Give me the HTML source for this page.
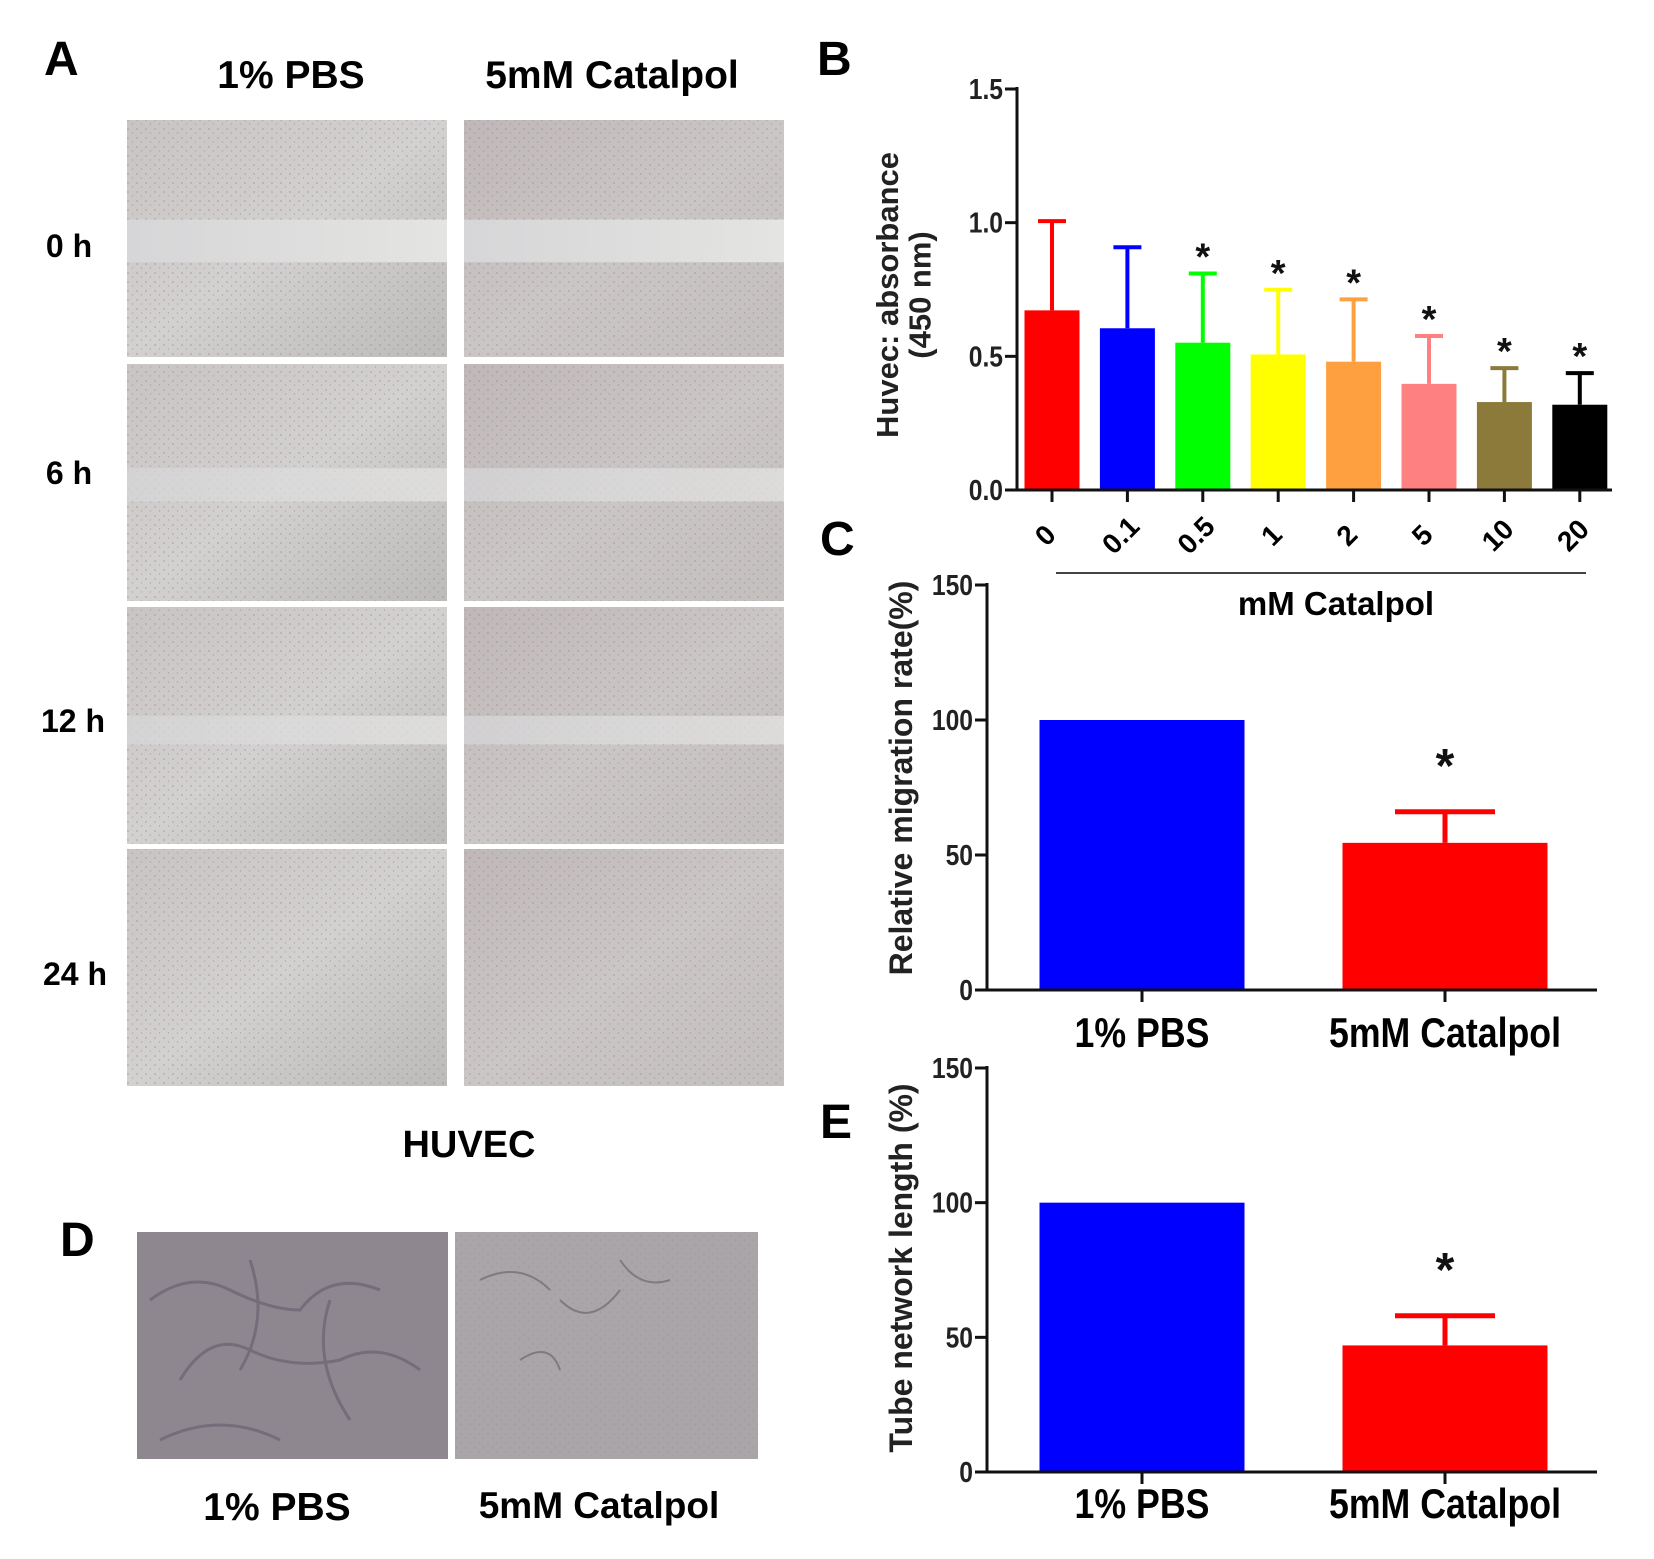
<!DOCTYPE html>
<html><head><meta charset="utf-8">
<style>
html,body{margin:0;padding:0;background:#fff;}
svg{display:block;font-family:"Liberation Sans",Arial,sans-serif;}
</style></head>
<body>
<svg id="fig" width="1654" height="1559" viewBox="0 0 1654 1559" xmlns="http://www.w3.org/2000/svg">
<defs>
<linearGradient id="gA" x1="0" y1="0" x2="1" y2="1">
<stop offset="0" stop-color="#c9c4c4"/><stop offset="0.5" stop-color="#d3d0d0"/><stop offset="1" stop-color="#bdbaba"/></linearGradient>
<linearGradient id="gB" x1="0" y1="0" x2="1" y2="1">
<stop offset="0" stop-color="#bfb7b8"/><stop offset="0.5" stop-color="#cbc6c6"/><stop offset="1" stop-color="#c3bfbe"/></linearGradient>
<linearGradient id="gap" x1="0" y1="0" x2="1" y2="0">
<stop offset="0" stop-color="#d6d6d8"/><stop offset="1" stop-color="#e4e4e2"/></linearGradient>
<pattern id="dots" width="9" height="9" patternUnits="userSpaceOnUse">
<circle cx="2" cy="3" r="0.9" fill="#8a8282" opacity="0.5"/><circle cx="6.5" cy="7" r="0.7" fill="#7a7272" opacity="0.4"/></pattern>
</defs>

<text x="44" y="75" font-size="48" font-weight="bold">A</text>
<text x="817" y="75" font-size="48" font-weight="bold">B</text>
<text x="820" y="555" font-size="48" font-weight="bold">C</text>
<text x="820" y="1138" font-size="48" font-weight="bold">E</text>
<text x="60" y="1256" font-size="48" font-weight="bold">D</text>

<g>
<text x="291" y="88" font-size="39" font-weight="bold" text-anchor="middle">1% PBS</text>
<text x="612" y="88" font-size="39" font-weight="bold" text-anchor="middle">5mM Catalpol</text>
<text x="69" y="257" font-size="32" font-weight="bold" text-anchor="middle">0 h</text>
<text x="69" y="484" font-size="32" font-weight="bold" text-anchor="middle">6 h</text>
<text x="73" y="732" font-size="32" font-weight="bold" text-anchor="middle">12 h</text>
<text x="75" y="985" font-size="32" font-weight="bold" text-anchor="middle">24 h</text>
<g id="micro"></g>
<text x="469" y="1157" font-size="38" font-weight="bold" text-anchor="middle">HUVEC</text>
</g>

<g>
<rect x="137" y="1232" width="311" height="227" fill="#8f8790"/>
<path d="M150 1300 q40 -30 80 -10 t70 20 q30 -40 80 -20 M180 1380 q30 -50 70 -30 t90 10 q40 -20 80 10 M250 1260 q20 60 -10 110 M330 1300 q-20 60 20 120 M160 1440 q60 -30 120 0" stroke="#6a6470" stroke-width="3" fill="none" opacity="0.7"/>
<rect x="455" y="1232" width="303" height="227" fill="#a9a5a8"/>
<rect x="455" y="1232" width="303" height="227" fill="url(#dots)" opacity="0.6"/>
<path d="M480 1280 q40 -20 70 10 M560 1300 q30 30 60 -10 M620 1260 q20 30 50 20 M520 1360 q30 -20 40 10" stroke="#6f6a70" stroke-width="2" fill="none" opacity="0.7"/>
<text x="277" y="1520" font-size="39" font-weight="bold" text-anchor="middle">1% PBS</text>
<text x="599" y="1518" font-size="37" font-weight="bold" text-anchor="middle">5mM Catalpol</text>
</g>

<g id="chartB"></g>
<g id="chartC"></g>
<g id="chartE"></g>
</svg>

<script>
// ---- Chart B data ----
const bCategories = ["0","0.1","0.5","1","2","5","10","20"];
const bValues = [0.672, 0.605, 0.551, 0.507, 0.480, 0.397, 0.329, 0.319];
const bErrors = [0.334, 0.303, 0.259, 0.242, 0.233, 0.179, 0.127, 0.118];
const bSignif = [false, false, true, true, true, true, true, true];
const bColors = ["#ff0000","#0000ff","#00ff00","#ffff00","#ffa040","#ff8080","#8b7a3a","#000000"];
const bTicks = [0, 0.5, 1.0, 1.5];
const bTickLabels = ["0.0","0.5","1.0","1.5"];

// ---- Chart C data ----
const cCategories = ["1% PBS","5mM Catalpol"];
const cValues = [100, 54.5];
const cErrors = [0, 11.5];
const cColors = ["#0000ff","#ff0000"];
const cTicks = [0, 50, 100, 150];

// ---- Chart E data ----
const eCategories = ["1% PBS","5mM Catalpol"];
const eValues = [100, 47];
const eErrors = [0, 11];
const eColors = ["#0000ff","#ff0000"];
const eTicks = [0, 50, 100, 150];

const NS = "http://www.w3.org/2000/svg";
function mk(parent, tag, attrs, text){
  const el = document.createElementNS(NS, tag);
  for (const k in attrs) el.setAttribute(k, attrs[k]);
  if (text !== undefined) el.textContent = text;
  parent.appendChild(el);
  return el;
}

(function(){
  const g = document.getElementById('micro');
  const cols = [127, 464], w = 320;
  const rows = [[120,237],[364,237],[607,237],[849,237]];
  const gapY = [[0.42,0.18],[0.44,0.14],[0.46,0.12],null];
  for (let c=0;c<2;c++) for (let r=0;r<4;r++){
    const x=cols[c], y=rows[r][0], h=rows[r][1];
    const im = mk(g,'rect',{x:x,y:y,width:w,height:h,fill:c?'url(#gB)':'url(#gA)'});
    
    
    mk(g,'rect',{x:x,y:y,width:w,height:h,fill:'url(#dots)'});
    if (gapY[r]){
      mk(g,'rect',{x:x,y:y+h*gapY[r][0],width:w,height:h*gapY[r][1],fill:'url(#gap)',opacity:r===0?1:0.75});
    }
  }
})();

function drawChart(gid, o){
  const g = document.getElementById(gid);
  const ys = v => o.y0 - (v - o.vmin) / (o.vmax - o.vmin) * (o.y0 - o.y1);
  const n = o.cats.length;
  const xs = i => o.xStart + i * o.step;
  for (let i=0;i<n;i++){
    const cx = xs(i), top = ys(o.vals[i]);
    if (o.errs[i] > 0){
      const et = ys(o.vals[i] + o.errs[i]);
      const l = mk(g,'line',{x1:cx,y1:top,x2:cx,y2:et,stroke:o.colors[i],'stroke-width':o.ew});
      
      
      mk(g,'line',{x1:cx-o.cap,y1:et,x2:cx+o.cap,y2:et,stroke:o.colors[i],'stroke-width':o.ew});
      if (o.sig[i]){
        const s = mk(g,'text',{x:cx,y:et-o.starOff,'font-size':o.starSize,'font-weight':'bold','text-anchor':'middle',fill:'#111'},'*');
        
        
      }
    }
    const b = mk(g,'rect',{x:cx-o.bw/2,y:top,width:o.bw,height:o.y0-top,fill:o.colors[i]});
    
    
    mk(g,'line',{x1:cx,y1:o.y0,x2:cx,y2:o.y0+12,stroke:'#111','stroke-width':3});
    let t;
    if (o.rot){
      t = mk(g,'text',{x:0,y:0,'font-size':o.xfs,'font-weight':'bold','text-anchor':'middle',transform:`translate(${cx},${o.xly}) rotate(-45)`},o.cats[i]);
    } else {
      t = mk(g,'text',{x:cx,y:o.xly,'font-size':o.xfs,'font-weight':'bold','text-anchor':'middle',transform:`translate(${cx},0) scale(0.85,1) translate(${-cx},0)`},o.cats[i]);
    }
    
    
  }
  const ya = mk(g,'line',{x1:o.xa,y1:o.y1-2,x2:o.xa,y2:o.y0+1.5,stroke:'#111','stroke-width':3});
  
  
  const xa = mk(g,'line',{x1:o.xa-12,y1:o.y0,x2:o.xEnd,y2:o.y0,stroke:'#111','stroke-width':3});
  
  
  for (let i=0;i<o.ticks.length;i++){
    const yy = ys(o.ticks[i]);
    mk(g,'line',{x1:o.xa-12,y1:yy,x2:o.xa,y2:yy,stroke:'#111','stroke-width':3});
    const tl = mk(g,'text',{x:o.xa-14,y:yy+10,'font-size':29,'font-weight':'bold','text-anchor':'end',transform:`translate(${o.xa-14},0) scale(0.85,1) translate(${-(o.xa-14)},0)`,fill:'#222'},o.tickLabels[i]);
    
    
  }
  o.ytitle.forEach((line,k)=>{
    const yt = mk(g,'text',{x:0,y:0,'font-size':o.ytfs,'font-weight':'bold','text-anchor':'middle',transform:`translate(${o.ytx + k*o.ytfs*1.05},${o.yty}) rotate(-90)`,fill:'#222'},line);
    
    
  });
}

drawChart('chartB',{cats:bCategories,vals:bValues,errs:bErrors,sig:bSignif,colors:bColors,
  ticks:bTicks,tickLabels:bTickLabels,vmin:0,vmax:1.5,y0:490,y1:89,xa:1017,xEnd:1612,
  xStart:1052,step:75.4,bw:55,cap:14,ew:4,starOff:4,starSize:38,rot:true,xly:542,xfs:28,
  ytitle:["Huvec: absorbance","(450 nm)"],ytx:898,yty:295,ytfs:31});

drawChart('chartC',{cats:cCategories,vals:cValues,errs:cErrors,sig:[false,true],colors:cColors,
  ticks:cTicks,tickLabels:cTicks.map(String),vmin:0,vmax:150,y0:990,y1:585,xa:987,xEnd:1597,
  xStart:1142,step:303,bw:205,cap:50,ew:5,starOff:30,starSize:48,rot:false,xly:1047,xfs:42,
  ytitle:["Relative migration rate(%)"],ytx:912,yty:778,ytfs:32});

drawChart('chartE',{cats:eCategories,vals:eValues,errs:eErrors,sig:[false,true],colors:eColors,
  ticks:eTicks,tickLabels:eTicks.map(String),vmin:0,vmax:150,y0:1472,y1:1068,xa:987,xEnd:1597,
  xStart:1142,step:303,bw:205,cap:50,ew:5,starOff:30,starSize:48,rot:false,xly:1518,xfs:42,
  ytitle:["Tube network length (%)"],ytx:912,yty:1268,ytfs:32});

(function(){
  const g = document.getElementById('chartB');
  const l = mk(g,'line',{x1:1056,y1:573,x2:1586,y2:573,stroke:'#444','stroke-width':2});
  
  
  const t = mk(g,'text',{x:1336,y:615,'font-size':33,'font-weight':'bold','text-anchor':'middle'},'mM Catalpol');
  
  
})();
</script>
</body></html>
